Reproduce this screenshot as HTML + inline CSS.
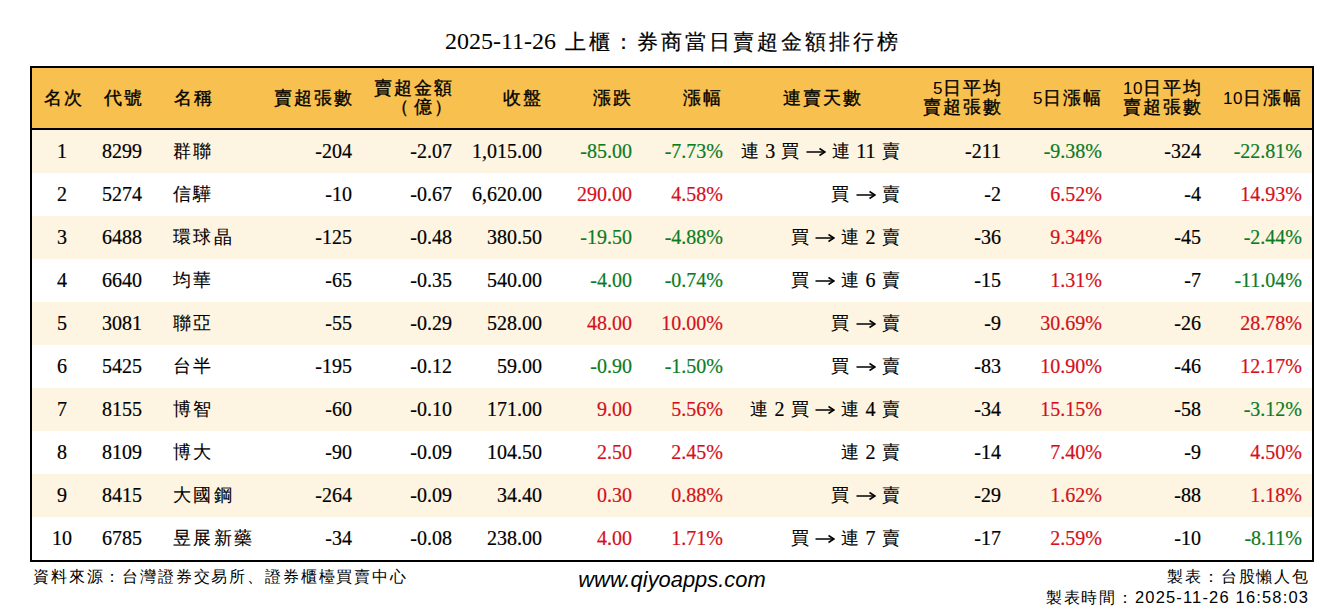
<!DOCTYPE html>
<html><head><meta charset="utf-8"><style>
html,body{margin:0;padding:0;background:#fff;width:1344px;height:612px;overflow:hidden}
body{position:relative;font-family:"Liberation Serif",serif;color:#000}
.t{position:absolute;white-space:nowrap}
.ttl{height:30px;line-height:30px;font-size:24px}
.ttl .k{font-size:21px;letter-spacing:3px;-webkit-text-stroke:0.2px #000}
.tbl{position:absolute;left:30px;top:66px;width:1280px;height:492px;border:2px solid #000}
.hdr{position:absolute;left:32px;top:68px;width:1280px;height:60px;background:#f7c04f}
.hline{position:absolute;left:32px;top:128px;width:1280px;height:2px;background:#000}
.row{position:absolute;left:32px;width:1280px;height:43px}
.odd{background:#fdf5e2}
.h{font-size:18px;line-height:20px;color:#000}
.h .k{letter-spacing:2px;-webkit-text-stroke:0.35px #000}
.hd{font-family:"Liberation Sans",sans-serif;font-size:17px;letter-spacing:0.5px}
.d{font-size:20px;line-height:43px;height:43px;color:#000;-webkit-text-stroke:0.2px currentColor}
.d .k{font-size:17.5px;letter-spacing:2.5px;padding-left:1px;margin-right:-1px;position:relative;top:-1.5px;-webkit-text-stroke:0.1px #000}
.arr{display:inline-block;vertical-align:middle;margin-top:-2px}
.foot{font-size:15.5px;line-height:20px;color:#000}
.foot .k{letter-spacing:1.85px}
</style></head><body>

<div class="t ttl" style="left:445px;top:26px;font-size:24px">2025-11-26</div>
<div class="t ttl" style="left:564.5px;top:26px"><span class="k">上櫃：券商當日賣超金額排行榜</span></div>
<div class="tbl"></div>
<div class="hdr"></div>
<div class="hline"></div>
<div class="row odd" style="top:130px"></div>
<div class="row" style="top:173px"></div>
<div class="row odd" style="top:216px"></div>
<div class="row" style="top:259px"></div>
<div class="row odd" style="top:302px"></div>
<div class="row" style="top:345px"></div>
<div class="row odd" style="top:388px"></div>
<div class="row" style="top:431px"></div>
<div class="row odd" style="top:474px"></div>
<div class="row" style="top:517px"></div>
<div class="t h" style="left:44px;width:240px;text-align:left;top:88px"><span class="k">名次</span></div>
<div class="t h" style="left:103.5px;width:240px;text-align:left;top:88px"><span class="k">代號</span></div>
<div class="t h" style="left:173.5px;width:240px;text-align:left;top:88px"><span class="k">名稱</span></div>
<div class="t h" style="left:114px;width:240px;text-align:right;top:88px"><span class="k">賣超張數</span></div>
<div class="t h" style="left:214px;width:240px;text-align:right;top:78.5px;line-height:19.5px"><span class="k">賣超金額</span><br><span class="k"><span style="letter-spacing:5px">（</span>億）</span></div>
<div class="t h" style="left:303px;width:240px;text-align:right;top:88px"><span class="k">收盤</span></div>
<div class="t h" style="left:393px;width:240px;text-align:right;top:88px"><span class="k">漲跌</span></div>
<div class="t h" style="left:483px;width:240px;text-align:right;top:88px"><span class="k">漲幅</span></div>
<div class="t h" style="left:783px;width:240px;text-align:left;top:88px"><span class="k">連賣天數</span></div>
<div class="t h" style="left:763px;width:240px;text-align:right;top:78.5px;line-height:19.5px"><span class="hd">5</span><span class="k">日平均</span><br><span class="k">賣超張數</span></div>
<div class="t h" style="left:863px;width:240px;text-align:right;top:88px"><span class="hd">5</span><span class="k">日漲幅</span></div>
<div class="t h" style="left:963px;width:240px;text-align:right;top:78.5px;line-height:19.5px"><span class="hd">10</span><span class="k">日平均</span><br><span class="k">賣超張數</span></div>
<div class="t h" style="left:1063px;width:240px;text-align:right;top:88px"><span class="hd">10</span><span class="k">日漲幅</span></div>
<div class="t d" style="left:-58px;width:240px;text-align:center;top:130px">1</div>
<div class="t d" style="left:102px;width:240px;text-align:left;top:130px">8299</div>
<div class="t d" style="left:171.5px;width:240px;text-align:left;top:130px"><span class="k">群聯</span></div>
<div class="t d" style="left:112px;width:240px;text-align:right;top:130px">-204</div>
<div class="t d" style="left:212px;width:240px;text-align:right;top:130px">-2.07</div>
<div class="t d" style="left:302px;width:240px;text-align:right;top:130px">1,015.00</div>
<div class="t d" style="left:392px;width:240px;text-align:right;top:130px;color:#0d7b1f">-85.00</div>
<div class="t d" style="left:483px;width:240px;text-align:right;top:130px;color:#0d7b1f">-7.73%</div>
<div class="t d" style="left:661px;width:240px;text-align:right;top:130px"><span class="k">連</span> 3 <span class="k">買</span> <svg class="arr" width="20" height="10" viewBox="0 0 20 10"><path d="M0.5 5H18.5" stroke="#000" stroke-width="1.5"/><path d="M13.5 1.5L19 5L13.5 8.5" fill="none" stroke="#000" stroke-width="1.5"/></svg> <span class="k">連</span> 11 <span class="k">賣</span></div>
<div class="t d" style="left:761px;width:240px;text-align:right;top:130px">-211</div>
<div class="t d" style="left:862px;width:240px;text-align:right;top:130px;color:#0d7b1f">-9.38%</div>
<div class="t d" style="left:961px;width:240px;text-align:right;top:130px">-324</div>
<div class="t d" style="left:1062px;width:240px;text-align:right;top:130px;color:#0d7b1f">-22.81%</div>
<div class="t d" style="left:-58px;width:240px;text-align:center;top:173px">2</div>
<div class="t d" style="left:102px;width:240px;text-align:left;top:173px">5274</div>
<div class="t d" style="left:171.5px;width:240px;text-align:left;top:173px"><span class="k">信驊</span></div>
<div class="t d" style="left:112px;width:240px;text-align:right;top:173px">-10</div>
<div class="t d" style="left:212px;width:240px;text-align:right;top:173px">-0.67</div>
<div class="t d" style="left:302px;width:240px;text-align:right;top:173px">6,620.00</div>
<div class="t d" style="left:392px;width:240px;text-align:right;top:173px;color:#d41020">290.00</div>
<div class="t d" style="left:483px;width:240px;text-align:right;top:173px;color:#d41020">4.58%</div>
<div class="t d" style="left:661px;width:240px;text-align:right;top:173px"><span class="k">買</span> <svg class="arr" width="20" height="10" viewBox="0 0 20 10"><path d="M0.5 5H18.5" stroke="#000" stroke-width="1.5"/><path d="M13.5 1.5L19 5L13.5 8.5" fill="none" stroke="#000" stroke-width="1.5"/></svg> <span class="k">賣</span></div>
<div class="t d" style="left:761px;width:240px;text-align:right;top:173px">-2</div>
<div class="t d" style="left:862px;width:240px;text-align:right;top:173px;color:#d41020">6.52%</div>
<div class="t d" style="left:961px;width:240px;text-align:right;top:173px">-4</div>
<div class="t d" style="left:1062px;width:240px;text-align:right;top:173px;color:#d41020">14.93%</div>
<div class="t d" style="left:-58px;width:240px;text-align:center;top:216px">3</div>
<div class="t d" style="left:102px;width:240px;text-align:left;top:216px">6488</div>
<div class="t d" style="left:171.5px;width:240px;text-align:left;top:216px"><span class="k">環球晶</span></div>
<div class="t d" style="left:112px;width:240px;text-align:right;top:216px">-125</div>
<div class="t d" style="left:212px;width:240px;text-align:right;top:216px">-0.48</div>
<div class="t d" style="left:302px;width:240px;text-align:right;top:216px">380.50</div>
<div class="t d" style="left:392px;width:240px;text-align:right;top:216px;color:#0d7b1f">-19.50</div>
<div class="t d" style="left:483px;width:240px;text-align:right;top:216px;color:#0d7b1f">-4.88%</div>
<div class="t d" style="left:661px;width:240px;text-align:right;top:216px"><span class="k">買</span> <svg class="arr" width="20" height="10" viewBox="0 0 20 10"><path d="M0.5 5H18.5" stroke="#000" stroke-width="1.5"/><path d="M13.5 1.5L19 5L13.5 8.5" fill="none" stroke="#000" stroke-width="1.5"/></svg> <span class="k">連</span> 2 <span class="k">賣</span></div>
<div class="t d" style="left:761px;width:240px;text-align:right;top:216px">-36</div>
<div class="t d" style="left:862px;width:240px;text-align:right;top:216px;color:#d41020">9.34%</div>
<div class="t d" style="left:961px;width:240px;text-align:right;top:216px">-45</div>
<div class="t d" style="left:1062px;width:240px;text-align:right;top:216px;color:#0d7b1f">-2.44%</div>
<div class="t d" style="left:-58px;width:240px;text-align:center;top:259px">4</div>
<div class="t d" style="left:102px;width:240px;text-align:left;top:259px">6640</div>
<div class="t d" style="left:171.5px;width:240px;text-align:left;top:259px"><span class="k">均華</span></div>
<div class="t d" style="left:112px;width:240px;text-align:right;top:259px">-65</div>
<div class="t d" style="left:212px;width:240px;text-align:right;top:259px">-0.35</div>
<div class="t d" style="left:302px;width:240px;text-align:right;top:259px">540.00</div>
<div class="t d" style="left:392px;width:240px;text-align:right;top:259px;color:#0d7b1f">-4.00</div>
<div class="t d" style="left:483px;width:240px;text-align:right;top:259px;color:#0d7b1f">-0.74%</div>
<div class="t d" style="left:661px;width:240px;text-align:right;top:259px"><span class="k">買</span> <svg class="arr" width="20" height="10" viewBox="0 0 20 10"><path d="M0.5 5H18.5" stroke="#000" stroke-width="1.5"/><path d="M13.5 1.5L19 5L13.5 8.5" fill="none" stroke="#000" stroke-width="1.5"/></svg> <span class="k">連</span> 6 <span class="k">賣</span></div>
<div class="t d" style="left:761px;width:240px;text-align:right;top:259px">-15</div>
<div class="t d" style="left:862px;width:240px;text-align:right;top:259px;color:#d41020">1.31%</div>
<div class="t d" style="left:961px;width:240px;text-align:right;top:259px">-7</div>
<div class="t d" style="left:1062px;width:240px;text-align:right;top:259px;color:#0d7b1f">-11.04%</div>
<div class="t d" style="left:-58px;width:240px;text-align:center;top:302px">5</div>
<div class="t d" style="left:102px;width:240px;text-align:left;top:302px">3081</div>
<div class="t d" style="left:171.5px;width:240px;text-align:left;top:302px"><span class="k">聯亞</span></div>
<div class="t d" style="left:112px;width:240px;text-align:right;top:302px">-55</div>
<div class="t d" style="left:212px;width:240px;text-align:right;top:302px">-0.29</div>
<div class="t d" style="left:302px;width:240px;text-align:right;top:302px">528.00</div>
<div class="t d" style="left:392px;width:240px;text-align:right;top:302px;color:#d41020">48.00</div>
<div class="t d" style="left:483px;width:240px;text-align:right;top:302px;color:#d41020">10.00%</div>
<div class="t d" style="left:661px;width:240px;text-align:right;top:302px"><span class="k">買</span> <svg class="arr" width="20" height="10" viewBox="0 0 20 10"><path d="M0.5 5H18.5" stroke="#000" stroke-width="1.5"/><path d="M13.5 1.5L19 5L13.5 8.5" fill="none" stroke="#000" stroke-width="1.5"/></svg> <span class="k">賣</span></div>
<div class="t d" style="left:761px;width:240px;text-align:right;top:302px">-9</div>
<div class="t d" style="left:862px;width:240px;text-align:right;top:302px;color:#d41020">30.69%</div>
<div class="t d" style="left:961px;width:240px;text-align:right;top:302px">-26</div>
<div class="t d" style="left:1062px;width:240px;text-align:right;top:302px;color:#d41020">28.78%</div>
<div class="t d" style="left:-58px;width:240px;text-align:center;top:345px">6</div>
<div class="t d" style="left:102px;width:240px;text-align:left;top:345px">5425</div>
<div class="t d" style="left:171.5px;width:240px;text-align:left;top:345px"><span class="k">台半</span></div>
<div class="t d" style="left:112px;width:240px;text-align:right;top:345px">-195</div>
<div class="t d" style="left:212px;width:240px;text-align:right;top:345px">-0.12</div>
<div class="t d" style="left:302px;width:240px;text-align:right;top:345px">59.00</div>
<div class="t d" style="left:392px;width:240px;text-align:right;top:345px;color:#0d7b1f">-0.90</div>
<div class="t d" style="left:483px;width:240px;text-align:right;top:345px;color:#0d7b1f">-1.50%</div>
<div class="t d" style="left:661px;width:240px;text-align:right;top:345px"><span class="k">買</span> <svg class="arr" width="20" height="10" viewBox="0 0 20 10"><path d="M0.5 5H18.5" stroke="#000" stroke-width="1.5"/><path d="M13.5 1.5L19 5L13.5 8.5" fill="none" stroke="#000" stroke-width="1.5"/></svg> <span class="k">賣</span></div>
<div class="t d" style="left:761px;width:240px;text-align:right;top:345px">-83</div>
<div class="t d" style="left:862px;width:240px;text-align:right;top:345px;color:#d41020">10.90%</div>
<div class="t d" style="left:961px;width:240px;text-align:right;top:345px">-46</div>
<div class="t d" style="left:1062px;width:240px;text-align:right;top:345px;color:#d41020">12.17%</div>
<div class="t d" style="left:-58px;width:240px;text-align:center;top:388px">7</div>
<div class="t d" style="left:102px;width:240px;text-align:left;top:388px">8155</div>
<div class="t d" style="left:171.5px;width:240px;text-align:left;top:388px"><span class="k">博智</span></div>
<div class="t d" style="left:112px;width:240px;text-align:right;top:388px">-60</div>
<div class="t d" style="left:212px;width:240px;text-align:right;top:388px">-0.10</div>
<div class="t d" style="left:302px;width:240px;text-align:right;top:388px">171.00</div>
<div class="t d" style="left:392px;width:240px;text-align:right;top:388px;color:#d41020">9.00</div>
<div class="t d" style="left:483px;width:240px;text-align:right;top:388px;color:#d41020">5.56%</div>
<div class="t d" style="left:661px;width:240px;text-align:right;top:388px"><span class="k">連</span> 2 <span class="k">買</span> <svg class="arr" width="20" height="10" viewBox="0 0 20 10"><path d="M0.5 5H18.5" stroke="#000" stroke-width="1.5"/><path d="M13.5 1.5L19 5L13.5 8.5" fill="none" stroke="#000" stroke-width="1.5"/></svg> <span class="k">連</span> 4 <span class="k">賣</span></div>
<div class="t d" style="left:761px;width:240px;text-align:right;top:388px">-34</div>
<div class="t d" style="left:862px;width:240px;text-align:right;top:388px;color:#d41020">15.15%</div>
<div class="t d" style="left:961px;width:240px;text-align:right;top:388px">-58</div>
<div class="t d" style="left:1062px;width:240px;text-align:right;top:388px;color:#0d7b1f">-3.12%</div>
<div class="t d" style="left:-58px;width:240px;text-align:center;top:431px">8</div>
<div class="t d" style="left:102px;width:240px;text-align:left;top:431px">8109</div>
<div class="t d" style="left:171.5px;width:240px;text-align:left;top:431px"><span class="k">博大</span></div>
<div class="t d" style="left:112px;width:240px;text-align:right;top:431px">-90</div>
<div class="t d" style="left:212px;width:240px;text-align:right;top:431px">-0.09</div>
<div class="t d" style="left:302px;width:240px;text-align:right;top:431px">104.50</div>
<div class="t d" style="left:392px;width:240px;text-align:right;top:431px;color:#d41020">2.50</div>
<div class="t d" style="left:483px;width:240px;text-align:right;top:431px;color:#d41020">2.45%</div>
<div class="t d" style="left:661px;width:240px;text-align:right;top:431px"><span class="k">連</span> 2 <span class="k">賣</span></div>
<div class="t d" style="left:761px;width:240px;text-align:right;top:431px">-14</div>
<div class="t d" style="left:862px;width:240px;text-align:right;top:431px;color:#d41020">7.40%</div>
<div class="t d" style="left:961px;width:240px;text-align:right;top:431px">-9</div>
<div class="t d" style="left:1062px;width:240px;text-align:right;top:431px;color:#d41020">4.50%</div>
<div class="t d" style="left:-58px;width:240px;text-align:center;top:474px">9</div>
<div class="t d" style="left:102px;width:240px;text-align:left;top:474px">8415</div>
<div class="t d" style="left:171.5px;width:240px;text-align:left;top:474px"><span class="k">大國鋼</span></div>
<div class="t d" style="left:112px;width:240px;text-align:right;top:474px">-264</div>
<div class="t d" style="left:212px;width:240px;text-align:right;top:474px">-0.09</div>
<div class="t d" style="left:302px;width:240px;text-align:right;top:474px">34.40</div>
<div class="t d" style="left:392px;width:240px;text-align:right;top:474px;color:#d41020">0.30</div>
<div class="t d" style="left:483px;width:240px;text-align:right;top:474px;color:#d41020">0.88%</div>
<div class="t d" style="left:661px;width:240px;text-align:right;top:474px"><span class="k">買</span> <svg class="arr" width="20" height="10" viewBox="0 0 20 10"><path d="M0.5 5H18.5" stroke="#000" stroke-width="1.5"/><path d="M13.5 1.5L19 5L13.5 8.5" fill="none" stroke="#000" stroke-width="1.5"/></svg> <span class="k">賣</span></div>
<div class="t d" style="left:761px;width:240px;text-align:right;top:474px">-29</div>
<div class="t d" style="left:862px;width:240px;text-align:right;top:474px;color:#d41020">1.62%</div>
<div class="t d" style="left:961px;width:240px;text-align:right;top:474px">-88</div>
<div class="t d" style="left:1062px;width:240px;text-align:right;top:474px;color:#d41020">1.18%</div>
<div class="t d" style="left:-58px;width:240px;text-align:center;top:517px">10</div>
<div class="t d" style="left:102px;width:240px;text-align:left;top:517px">6785</div>
<div class="t d" style="left:171.5px;width:240px;text-align:left;top:517px"><span class="k">昱展新藥</span></div>
<div class="t d" style="left:112px;width:240px;text-align:right;top:517px">-34</div>
<div class="t d" style="left:212px;width:240px;text-align:right;top:517px">-0.08</div>
<div class="t d" style="left:302px;width:240px;text-align:right;top:517px">238.00</div>
<div class="t d" style="left:392px;width:240px;text-align:right;top:517px;color:#d41020">4.00</div>
<div class="t d" style="left:483px;width:240px;text-align:right;top:517px;color:#d41020">1.71%</div>
<div class="t d" style="left:661px;width:240px;text-align:right;top:517px"><span class="k">買</span> <svg class="arr" width="20" height="10" viewBox="0 0 20 10"><path d="M0.5 5H18.5" stroke="#000" stroke-width="1.5"/><path d="M13.5 1.5L19 5L13.5 8.5" fill="none" stroke="#000" stroke-width="1.5"/></svg> <span class="k">連</span> 7 <span class="k">賣</span></div>
<div class="t d" style="left:761px;width:240px;text-align:right;top:517px">-17</div>
<div class="t d" style="left:862px;width:240px;text-align:right;top:517px;color:#d41020">2.59%</div>
<div class="t d" style="left:961px;width:240px;text-align:right;top:517px">-10</div>
<div class="t d" style="left:1062px;width:240px;text-align:right;top:517px;color:#0d7b1f">-8.11%</div>
<div class="t foot" style="left:33px;top:567px"><span class="k">資料來源：台灣證券交易所、證券櫃檯買賣中心</span></div>
<div class="t" style="left:0;width:1344px;text-align:center;top:568px;line-height:24px;font-family:'Liberation Sans',sans-serif;font-style:italic;font-size:21.9px;color:#000">www.qiyoapps.com</div>
<div class="t foot" style="left:1008px;width:302px;text-align:right;top:566.5px"><span class="k">製表：台股懶人包</span></div>
<div class="t foot" style="left:908px;width:400px;text-align:right;top:587px"><span class="k">製表時間：</span><span style="font-family:'Liberation Sans',sans-serif;font-size:16.5px;letter-spacing:1.17px">2025-11-26 16:58:0<span style="letter-spacing:0">3</span></span></div>
</body></html>
